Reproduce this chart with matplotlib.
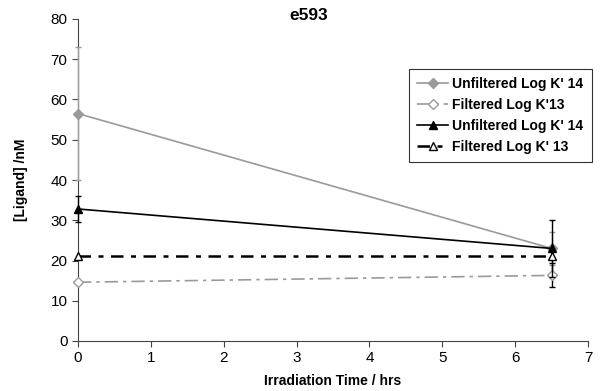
import matplotlib.pyplot as plt
from matplotlib.lines import Line2D
import numpy as np

plt.rcParams['font.family'] = ['Liberation Sans', 'DejaVu Sans']

time_hrs = [0, 6.5]

unfilt_k14_grey = [56.5, 23.0]
unfilt_k14_grey_err = [16.5, 4.0]
filt_k13_grey = [14.6, 16.3]
filt_k13_grey_err = [0.0, 3.0]
unfilt_k14_black = [32.8, 23.0]
unfilt_k14_black_err = [3.2, 7.0]
filt_k13_black = [21.0, 21.0]

series_labels = ["Unfiltered Log K' 14", "Filtered Log K'13",
                 "Unfiltered Log K' 14", "Filtered Log K' 13"]

grey = '#9a9a9a'

fig = plt.figure(figsize=(6.06, 3.91), dpi=100)
ax = fig.add_axes([78 / 606, 1 - 341 / 391, 510 / 606, 322 / 391])

styles = [
    dict(color=grey, marker='D', markersize=5, lw=1.2),
    dict(color=grey, marker='D', markersize=5, mfc='white', mec=grey, lw=1.2,
         dashes=[8, 3, 2, 3]),
    dict(color='black', marker='^', markersize=6, lw=1.2),
    dict(color='black', marker='^', markersize=6, mfc='white', mec='black',
         lw=1.8, dashes=[5, 3, 2, 3]),
]

ax.errorbar(time_hrs, unfilt_k14_grey, yerr=unfilt_k14_grey_err, capsize=2.5,
            elinewidth=1, zorder=3, clip_on=False, **styles[0])
ax.errorbar(time_hrs, filt_k13_grey, yerr=filt_k13_grey_err, ecolor='black',
            capsize=2.5, elinewidth=1, zorder=3, clip_on=False, **styles[1])
ax.errorbar(time_hrs, unfilt_k14_black, yerr=unfilt_k14_black_err, capsize=2.5,
            elinewidth=1, zorder=4, clip_on=False, **styles[2])
ax.plot(time_hrs, filt_k13_black, zorder=4, clip_on=False, **styles[3])

ax.set_xlim(0, 7)
ax.set_ylim(0, 80)
ax.set_xticks(np.arange(0, 8, 1))
ax.set_yticks(np.arange(0, 90, 10))
ax.spines['top'].set_visible(False)
ax.spines['right'].set_visible(False)
ax.spines['left'].set_color('#444444')
ax.spines['bottom'].set_color('#444444')
ax.tick_params(direction='out', length=4, labelsize=11, color='#444444')

ax.set_xlabel('Irradiation Time / hrs', fontsize=10, fontweight='bold', labelpad=6)
ax.set_ylabel('[Ligand] /nM', fontsize=10, fontweight='bold', labelpad=16)
ax.text(0.453, 1.01, 'e593', transform=ax.transAxes, ha='center', va='center',
        fontsize=12.5, fontweight='bold')

# legend shows plain line + marker swatches, without the error bars
handles = [Line2D([0], [0], **s) for s in styles]
leg = ax.legend(handles, series_labels, loc='upper left',
                bbox_to_anchor=(0.649, 0.845),
                prop={'weight': 'bold', 'size': 10}, frameon=True, fancybox=False,
                handlelength=2.2, handletextpad=0.3, labelspacing=0.5,
                borderpad=0.6, borderaxespad=0)
leg.get_frame().set_edgecolor('black')
leg.get_frame().set_linewidth(0.8)

fig.savefig('out.png', dpi=100)
